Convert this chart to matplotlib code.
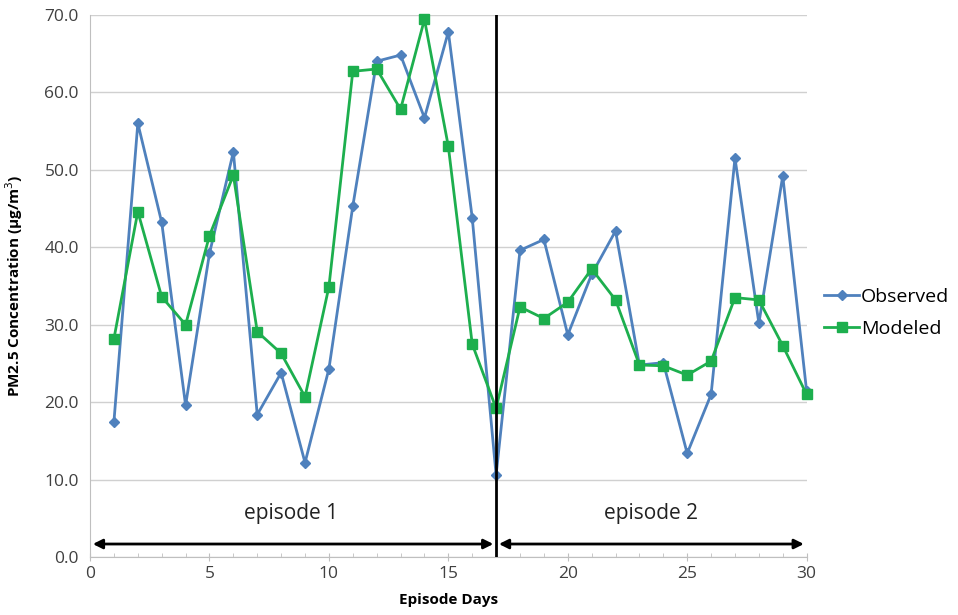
import numpy as np
import matplotlib.pyplot as plt
from matplotlib.ticker import MultipleLocator

plt.rcParams.update({
    'font.family': ['Open Sans', 'DejaVu Sans'],
    'font.size': 11,
})

days = np.arange(1, 31)
observed = [17.5, 56.0, 43.2, 19.6, 39.2, 52.3, 18.4, 23.8, 12.2, 24.3,
            45.3, 64.0, 64.8, 56.7, 67.8, 43.8, 10.6, 39.6, 41.0, 28.7,
            36.5, 42.1, 24.8, 25.1, 13.4, 21.0, 51.5, 30.2, 49.2, 21.4]
modeled = [28.2, 44.6, 33.6, 30.0, 41.5, 49.3, 29.1, 26.3, 20.7, 34.9,
           62.7, 63.0, 57.8, 69.4, 53.0, 27.5, 19.2, 32.3, 30.8, 32.9,
           37.2, 33.2, 24.8, 24.7, 23.5, 25.3, 33.5, 33.2, 27.3, 21.0]

episode_split = 17
episode_labels = ['episode 1', 'episode 2']

fig = plt.figure(figsize=(9.58, 6.15), dpi=100)
ax = fig.add_axes([0.094, 0.094, 0.748, 0.882])

ax.plot(days, observed, color='#4F81BD', marker='D', markersize=5, linewidth=2,
        label='Observed', zorder=3, clip_on=False)
ax.plot(days, modeled, color='#1DAF4E', marker='s', markersize=7, linewidth=2,
        label='Modeled', zorder=3, clip_on=False)

ax.set_xlim(0, 30)
ax.set_ylim(0, 70)
ax.xaxis.set_major_locator(MultipleLocator(5))
ax.xaxis.set_minor_locator(MultipleLocator(1))
ax.yaxis.set_major_locator(MultipleLocator(10))
ax.set_yticklabels([f'{v:.1f}' for v in ax.get_yticks()])
ax.grid(axis='y', color='#D0D0D0', linewidth=1, zorder=0)

for s in ['top', 'right']:
    ax.spines[s].set_visible(False)
for s in ['left', 'bottom']:
    ax.spines[s].set_color('#BFBFBF')
ax.tick_params(axis='both', colors='#BFBFBF', labelcolor='#404040', labelsize=12.5)
ax.tick_params(axis='y', length=0, pad=8)
ax.tick_params(axis='x', which='major', length=6, direction='inout')
ax.tick_params(axis='x', which='minor', length=3, direction='in', colors='#BFBFBF')

ax.set_xlabel('Episode Days', fontsize=11, fontweight='bold', labelpad=8)
ax.set_ylabel('PM2.5 Concentration (µg/m$^3$)', fontsize=11, fontweight='bold', labelpad=14)

# episode divider and arrows
ax.axvline(episode_split, color='black', linewidth=2, zorder=4)
arrow_y = 1.7
ax.annotate('', xy=(0, arrow_y), xytext=(episode_split, arrow_y),
            arrowprops=dict(arrowstyle='<|-|>', color='black', lw=2, mutation_scale=14))
ax.annotate('', xy=(episode_split, arrow_y), xytext=(30, arrow_y),
            arrowprops=dict(arrowstyle='<|-|>', color='black', lw=2, mutation_scale=14))
ax.text(8.4, 5.6, episode_labels[0], ha='center', va='center', fontsize=15, color='#222222')
ax.text(23.5, 5.6, episode_labels[1], ha='center', va='center', fontsize=15, color='#222222')

ax.legend(loc='center left', bbox_to_anchor=(1.0, 0.45), frameon=False,
          fontsize=14, handlelength=1.8, handletextpad=0.1, labelspacing=0.7)

fig.savefig('out.png', dpi=100)
